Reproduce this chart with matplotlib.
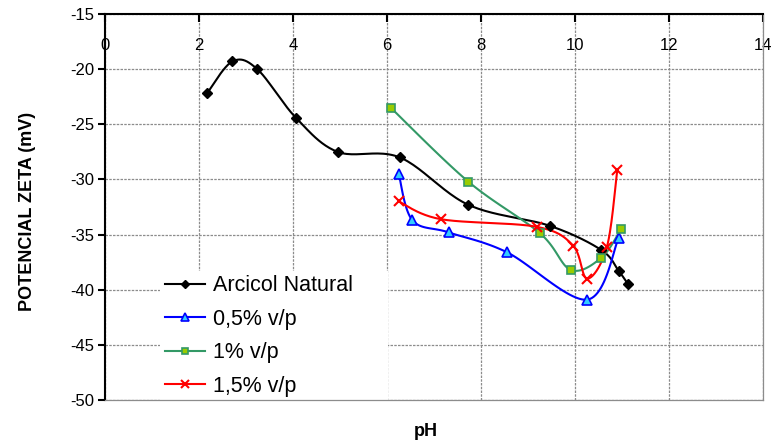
import matplotlib
matplotlib.use("Agg")
import matplotlib.pyplot as plt
from matplotlib.lines import Line2D
import numpy as np

plt.rcParams['font.family'] = ['Liberation Sans', 'DejaVu Sans']
plt.rcParams['axes.unicode_minus'] = False

# data
ph_natural = [2.17, 2.71, 3.24, 4.06, 4.95, 6.27, 7.73, 9.46, 10.56, 10.93, 11.13]
zeta_natural = [-22.2, -19.3, -20.0, -24.4, -27.5, -28.0, -32.3, -34.2, -36.4, -38.3, -39.5]

ph_05 = [6.25, 6.54, 7.31, 8.55, 10.26, 10.93]
zeta_05 = [-29.5, -33.7, -34.8, -36.6, -40.9, -35.3]

ph_1 = [6.08, 7.73, 9.26, 9.91, 10.56, 10.98]
zeta_1 = [-23.5, -30.2, -34.9, -38.2, -37.1, -34.5]

ph_15 = [6.25, 7.14, 9.19, 9.96, 10.26, 10.68, 10.90]
zeta_15 = [-32.0, -33.6, -34.3, -36.0, -39.0, -36.1, -29.1]

labels = ['Arcicol Natural', '0,5% v/p', '1% v/p', '1,5% v/p']

XMIN, XMAX, YMIN, YMAX = 0, 14, -50, -15
W_PX, H_PX = 658, 386


def smooth(x, y, n=25):
    # Excel-like smoothed line: cubic Bezier through the points, built in pixel space
    px = (np.asarray(x) - XMIN) / (XMAX - XMIN) * W_PX
    py = (np.asarray(y) - YMIN) / (YMAX - YMIN) * H_PX
    pts = np.column_stack([px, py])
    out = []
    t = np.linspace(0, 1, n)[:, None]
    for i in range(len(pts) - 1):
        p0 = pts[i - 1] if i > 0 else pts[i]
        p1, p2 = pts[i], pts[i + 1]
        p3 = pts[i + 2] if i + 2 < len(pts) else pts[i + 1]
        c1 = p1 + (p2 - p0) / 6
        c2 = p2 - (p3 - p1) / 6
        seg = ((1 - t) ** 3) * p1 + 3 * ((1 - t) ** 2) * t * c1 + 3 * (1 - t) * t ** 2 * c2 + t ** 3 * p2
        out.append(seg if i == 0 else seg[1:])
    out = np.vstack(out)
    return (out[:, 0] / W_PX * (XMAX - XMIN) + XMIN,
            out[:, 1] / H_PX * (YMAX - YMIN) + YMIN)


fig = plt.figure(figsize=(7.75, 4.43), dpi=100)
ax = fig.add_axes([105 / 775, 1 - 400 / 443, W_PX / 775, H_PX / 443])

series = [
    (ph_natural, zeta_natural, dict(color='black', marker='D', ms=5, mfc='black', mec='black')),
    (ph_05, zeta_05, dict(color='#0000FF', marker='^', ms=7, mfc='#33CCFF', mec='#0000FF', mew=1.2)),
    (ph_1, zeta_1, dict(color='#339966', marker='s', ms=6, mfc='#99CC00', mec='#339966', mew=1.2)),
    (ph_15, zeta_15, dict(color='#FF0000', marker='x', ms=7, mfc='#FF0000', mec='#FF0000', mew=1.5)),
]

handles = []
for (x, y, st), lab in zip(series, labels):
    sx, sy = smooth(x, y)
    ax.plot(sx, sy, color=st['color'], lw=1.5, zorder=3)
    ax.plot(x, y, ls='none', marker=st['marker'], ms=st['ms'], mfc=st['mfc'],
            mec=st['mec'], mew=st.get('mew', 1), zorder=4)
    handles.append(Line2D([], [], color=st['color'], lw=1.5, marker=st['marker'],
                          ms=st['ms'] - 1, mfc=st['mfc'], mec=st['mec'], mew=st.get('mew', 1)))

ax.set_xlim(XMIN, XMAX)
ax.set_ylim(YMIN, YMAX)
ax.set_xticks(np.arange(0, 15, 2))
ax.set_yticks(np.arange(-50, -14, 5))

ax.grid(True, color='#8c8c8c', linestyle=(0, (2, 1)), linewidth=0.9)
ax.set_axisbelow(True)

for side in ['top', 'left']:
    ax.spines[side].set_linewidth(1.5)
    ax.spines[side].set_color('black')
for side in ['bottom', 'right']:
    ax.spines[side].set_color('#8c8c8c')
    ax.spines[side].set_linestyle((0, (2, 1)))
    ax.spines[side].set_linewidth(0.9)
ax.spines['bottom'].set_zorder(6)

ax.xaxis.tick_top()
ax.tick_params(axis='x', direction='in', length=6, width=1.5, pad=-28, labelsize=12)
ax.tick_params(axis='y', direction='out', length=5, width=1.5, pad=3, labelsize=12)

leg = ax.legend(handles, labels, loc='upper left', bbox_to_anchor=(0.084, 0.034, 0.346, 0.3),
                mode='expand', fontsize=15.5, frameon=True, fancybox=False, framealpha=1,
                facecolor='white', edgecolor='none', borderaxespad=0, borderpad=0.2,
                handlelength=1.9, handletextpad=0.35, labelspacing=0.58)
leg.set_zorder(5)

fig.text(28 / 775, 1 - 211 / 443, 'POTENCIAL ZETA (mV)', rotation=90, ha='center',
         va='center', fontsize=13, fontweight='bold')
fig.text(426 / 775, 1 - 432 / 443, 'pH', ha='center', va='center', fontsize=13,
         fontweight='bold')

fig.savefig('out.png', dpi=100)
